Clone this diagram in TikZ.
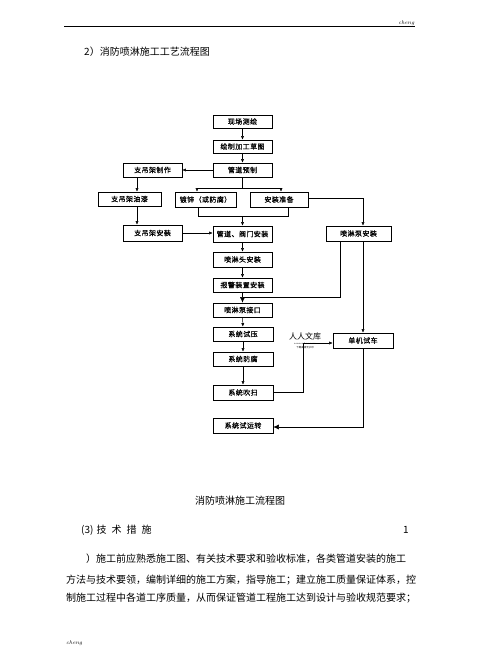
\documentclass[tikz,border=0pt]{standalone}
\usepackage{fontspec}
\usetikzlibrary{arrows.meta}
\newfontfamily\cjk{Noto Sans CJK SC}
\newfontfamily\boxfont[LetterSpace=6,FakeBold=0.6]{Noto Sans CJK SC}
\tikzset{
  box/.style={draw, line width=0.6pt, minimum width=59pt, minimum height=14pt, inner sep=0pt,
    font=\boxfont\fontsize{7}{8}\selectfont},
  conn/.style={line width=0.5pt},
  arr/.style={conn, -{Latex[length=3.5pt,width=3pt]}},
  bigarr/.style={conn, -{Latex[length=5.5pt,width=5pt]}},
  body/.style={font=\cjk\fontsize{10}{12}\selectfont, inner sep=0pt},
}
\begin{document}
\begin{tikzpicture}[x=1pt,y=-1pt]
\useasboundingbox (0,0) rectangle (480,647);
% header
\coordinate (hl) at (64,26);
\coordinate (hr) at (415,26);
\draw[line width=0.8pt] (hl) -- (hr);
\node[anchor=south east, inner sep=0.5pt, font=\itshape\fontsize{5.5}{6}\selectfont] (ch1) at (hr) {cheng};
\node[anchor=west, inner sep=0pt, font=\itshape\fontsize{5.5}{6}\selectfont] (ch2) at (66,643) {cheng};
\node[body, anchor=west] (title) at (84,52) {2）消防喷淋施工工艺流程图};

% boxes
\node[box, minimum height=13pt] (xc) at (242.5,121.5) {现场测绘};
\node[box, minimum height=13pt] (hz) at (242.5,146.5) {绘制加工草图};
\node[box] (gd) at (242.5,170) {管道预制};
\node[box] (zz) at (152.5,170) {支吊架制作};
\node[box, minimum width=63pt] (zy) at (129.5,199) {支吊架油漆};
\node[box, minimum width=61pt, minimum height=15pt] (dx) at (205.5,199.5) {镀锌（或防腐）};
\node[box, minimum width=58pt, minimum height=15pt] (az) at (279,199.5) {安装准备};
\node[box, minimum height=16pt] (za) at (152.5,233) {支吊架安装};
\node[box, minimum height=16pt] (gf) at (242.5,234) {管道、阀门安装};
\node[box, minimum width=65pt, minimum height=15pt] (pb) at (358.5,233.5) {喷淋泵安装};
\node[box, minimum height=15pt] (pt) at (242.5,259.5) {喷淋头安装};
\node[box] (bj) at (242.5,285) {报警装置安装};
\node[box] (jk) at (242.5,310) {喷淋泵接口};
\node[box, minimum width=60pt] (sy) at (243,334) {系统试压};
\node[box, minimum width=60pt] (sf) at (243,359) {系统防腐};
\node[box, minimum width=60pt, minimum height=15pt] (cs) at (243,392.5) {系统吹扫};
\node[box, minimum width=60pt, minimum height=15pt] (yz) at (243,425.5) {系统试运转};
\node[box, minimum width=60pt, minimum height=15pt] (dj) at (363,340.5) {单机试车};

% connectors
\draw[arr] (xc) -- (hz);
\draw[arr] (hz) -- (gd);
\draw[arr] (gd.west) -- (zz.east);
\coordinate (lx) at (137,0);
\draw[arr] (lx |- zz.south) -- (lx |- zy.north);
\draw[arr] (lx |- zy.south) -- (lx |- za.north);
\draw[arr] (za.east) -- (gf.west |- za.east);

\coordinate (s1) at (197,188);
\coordinate (s2) at (281,188);
\draw[conn] (gd.south) -- (gd.south |- s1);
\draw[conn] (s1) -- (s2);
\draw[arr] (s1) -- (s1 |- dx.north);
\draw[arr] (s2) -- (s2 |- az.north);

\coordinate (j1) at (198,216);
\coordinate (j2) at (288,216);
\draw[conn] (j1 |- dx.south) -- (j1) -- (j2) -- (j2 |- az.south);
\draw[arr] (gd.south |- j1) -- (gf.north);

\coordinate (r1) at (363,198);
\draw[arr] (az.east |- r1) -- (r1) -- (r1 |- pb.north);

\draw[arr] (gf) -- (pt);
\draw[arr] (pt) -- (bj);
\draw[bigarr] (bj) -- (jk);
\draw[arr] (jk) -- (sy);
\draw[arr] (sy) -- (sf);
\draw[arr] (sf) -- (cs);

\coordinate (p1) at (340,297);
\draw[conn] (p1 |- pb.south) -- (p1) -- (p1 -| jk.north);

\coordinate (r2) at (363,0);
\draw[arr] (r2 |- pb.south) -- (r2 |- dj.north);

\coordinate (c1) at (303,343);
\draw[arr] (cs.east) -| (c1) -- (c1 -| dj.west);

\coordinate (c2) at (363,427);
\draw[bigarr] (r2 |- dj.south) -- (c2) -- (c2 -| yz.east);

% watermark
\node[inner sep=0pt, font=\cjk\fontsize{8}{8}\selectfont] (wm1) at (305,336) {人人文库};
\node[inner sep=0pt, font=\fontsize{2.5}{3}\selectfont] (wm2) at (305,343.5) {renrendoc.com};
\node[inner sep=0pt, font=\cjk\fontsize{2.5}{3}\selectfont] (wm3) at (305,347.5) {下载高清无水印};

% text below
\node[body] (cap) at (240,501) {消防喷淋施工流程图};
\node[body, anchor=west] (sec) at (81,530) {(3)\hspace{3pt}技\hspace{5pt}术\hspace{5pt}措\hspace{5pt}施};
\node[body] (pg) at (406,530) {1};
\node[body, anchor=west] (l1) at (86,559) {）施工前应熟悉施工图、有关技术要求和验收标准，各类管道安装的施工};
\node[body, anchor=west] (l2) at (66,580) {方法与技术要领，编制详细的施工方案，指导施工；建立施工质量保证体系，控};
\node[body, anchor=west] (l3) at (66,598) {制施工过程中各道工序质量，从而保证管道工程施工达到设计与验收规范要求；};
\end{tikzpicture}
\end{document}
